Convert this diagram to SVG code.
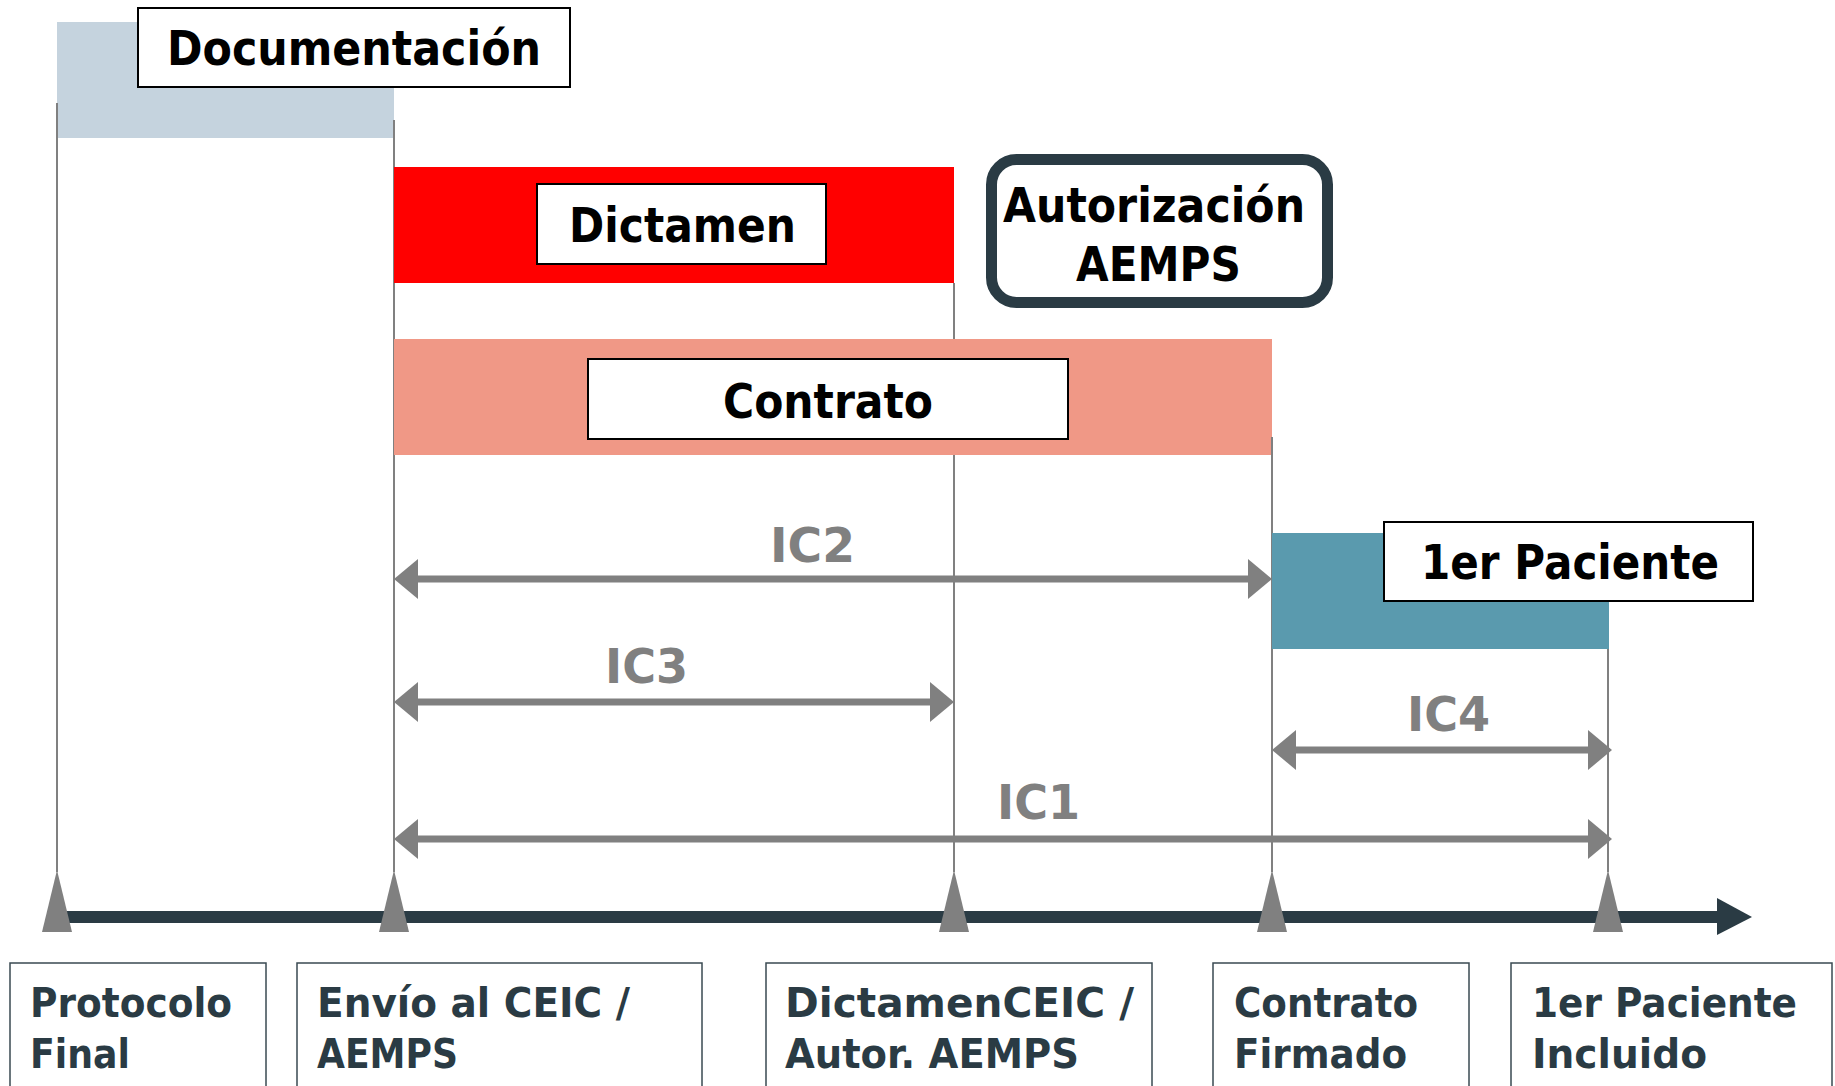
<svg xmlns="http://www.w3.org/2000/svg" width="1835" height="1086" viewBox="0 0 1835 1086">
<defs>
<style>
.lbl{fill:#fff;stroke:#000;stroke-width:2}
.t{font-family:"DejaVu Sans","Liberation Sans",sans-serif;font-weight:bold}
.big{font-size:48px;fill:#000}
.ic{font-size:48px;fill:#808080}
.ms{font-size:41px;fill:#2a3b44}
.vl{stroke:#808080;stroke-width:2;fill:none}
.arr{stroke:#808080;stroke-width:7;fill:none;marker-start:url(#ah);marker-end:url(#ah)}
.tri{fill:#808080}
.mbox{fill:#fff;stroke:#3a4a52;stroke-width:1.5}
</style>
<marker id="ah" markerUnits="userSpaceOnUse" markerWidth="24" markerHeight="40" refX="12" refY="20" orient="auto-start-reverse" viewBox="0 0 24 40">
<path d="M0,0 L24,20 L0,40 Z" fill="#808080"/>
</marker>
</defs>
<rect width="1835" height="1086" fill="#fff"/>

<g id="guides">
<line class="vl" x1="57" y1="103" x2="57" y2="872"/>
<line class="vl" x1="394" y1="120" x2="394" y2="872"/>
<line class="vl" x1="954" y1="283" x2="954" y2="872"/>
<line class="vl" x1="1272" y1="437" x2="1272" y2="872"/>
<line class="vl" x1="1608" y1="649" x2="1608" y2="872"/>
</g>

<g id="phase-documentacion">
<rect x="57" y="22" width="337" height="116" fill="#c5d3de"/>
<line class="vl" x1="57" y1="103" x2="57" y2="138"/>
<line class="vl" x1="394" y1="120" x2="394" y2="138"/>
<rect class="lbl" x="138" y="8" width="432" height="79"/>
<text class="t big" x="167" y="65" textLength="374" lengthAdjust="spacingAndGlyphs">Documentación</text>
</g>

<g id="phase-dictamen">
<rect x="394" y="167" width="560" height="116" fill="#ff0000"/>
<rect class="lbl" x="537" y="184" width="289" height="80"/>
<text class="t big" x="569" y="242" textLength="227" lengthAdjust="spacingAndGlyphs">Dictamen</text>
</g>

<g id="phase-autorizacion">
<rect x="991.5" y="159.5" width="336" height="143" rx="25" fill="#fff" stroke="#2a3b44" stroke-width="11"/>
<text class="t big" x="1003" y="222" textLength="302" lengthAdjust="spacingAndGlyphs">Autorización</text>
<text class="t big" x="1076" y="281" textLength="165" lengthAdjust="spacingAndGlyphs">AEMPS</text>
</g>

<g id="phase-contrato">
<rect x="394" y="339" width="878" height="116" fill="#f09886"/>
<line class="vl" x1="1272" y1="437" x2="1272" y2="455"/>
<rect class="lbl" x="588" y="359" width="480" height="80"/>
<text class="t big" x="723" y="418" textLength="210" lengthAdjust="spacingAndGlyphs">Contrato</text>
</g>

<g id="phase-paciente">
<rect x="1272" y="533" width="337" height="116" fill="#5a9aae"/>
<rect class="lbl" x="1384" y="522" width="369" height="79"/>
<text class="t big" x="1421" y="579" textLength="298" lengthAdjust="spacingAndGlyphs">1er Paciente</text>
</g>

<g id="connectors">
<line class="arr" x1="406" y1="579" x2="1260" y2="579"/>
<line class="arr" x1="406" y1="702" x2="942" y2="702"/>
<line class="arr" x1="1284" y1="750" x2="1600" y2="750"/>
<line class="arr" x1="406" y1="839" x2="1600" y2="839"/>
<text class="t ic" x="770" y="562" textLength="85" lengthAdjust="spacingAndGlyphs">IC2</text>
<text class="t ic" x="605" y="683" textLength="83" lengthAdjust="spacingAndGlyphs">IC3</text>
<text class="t ic" x="1407" y="731" textLength="83" lengthAdjust="spacingAndGlyphs">IC4</text>
<text class="t ic" x="997" y="819" textLength="83" lengthAdjust="spacingAndGlyphs">IC1</text>
</g>

<g id="axis">
<line x1="64" y1="917" x2="1720" y2="917" stroke="#2a3b44" stroke-width="12"/>
<polygon points="1717,898 1752,917 1717,935" fill="#2a3b44"/>
</g>

<g id="ms-protocolo">
<polygon class="tri" points="57,870 42,932 72,932"/>
<rect class="mbox" x="10" y="963" width="256" height="140"/>
<text class="t ms" x="30" y="1017" textLength="202" lengthAdjust="spacingAndGlyphs">Protocolo</text>
<text class="t ms" x="30" y="1068" textLength="100" lengthAdjust="spacingAndGlyphs">Final</text>
</g>

<g id="ms-envio">
<polygon class="tri" points="394,870 379,932 409,932"/>
<rect class="mbox" x="297" y="963" width="405" height="140"/>
<text class="t ms" x="317" y="1017" textLength="313" lengthAdjust="spacingAndGlyphs">Envío al CEIC /</text>
<text class="t ms" x="317" y="1068" textLength="141" lengthAdjust="spacingAndGlyphs">AEMPS</text>
</g>

<g id="ms-dictamen">
<polygon class="tri" points="954,870 939,932 969,932"/>
<rect class="mbox" x="766" y="963" width="386" height="140"/>
<text class="t ms" x="785" y="1017" textLength="349" lengthAdjust="spacingAndGlyphs">DictamenCEIC /</text>
<text class="t ms" x="785" y="1068" textLength="294" lengthAdjust="spacingAndGlyphs">Autor. AEMPS</text>
</g>

<g id="ms-contrato">
<polygon class="tri" points="1272,870 1257,932 1287,932"/>
<rect class="mbox" x="1213" y="963" width="256" height="140"/>
<text class="t ms" x="1234" y="1017" textLength="184" lengthAdjust="spacingAndGlyphs">Contrato</text>
<text class="t ms" x="1234" y="1068" textLength="173" lengthAdjust="spacingAndGlyphs">Firmado</text>
</g>

<g id="ms-paciente">
<polygon class="tri" points="1608,870 1593,932 1623,932"/>
<rect class="mbox" x="1511" y="963" width="321" height="140"/>
<text class="t ms" x="1532" y="1017" textLength="265" lengthAdjust="spacingAndGlyphs">1er Paciente</text>
<text class="t ms" x="1532" y="1068" textLength="175" lengthAdjust="spacingAndGlyphs">Incluido</text>
</g>
</svg>
